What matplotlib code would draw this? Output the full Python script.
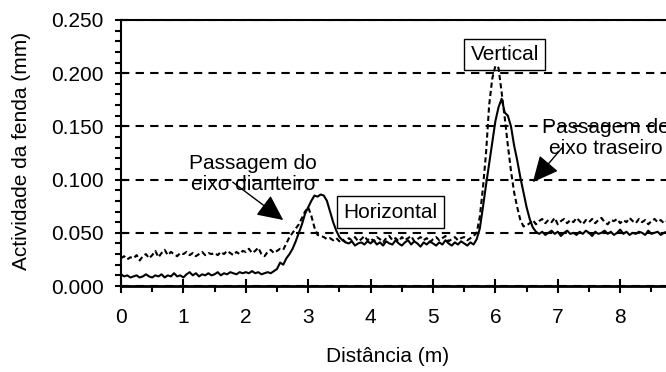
import numpy as np
import matplotlib.pyplot as plt
from matplotlib.ticker import MultipleLocator, FuncFormatter, FormatStrFormatter

plt.rcParams['font.family'] = ['Liberation Sans', 'DejaVu Sans']
plt.rcParams['font.size'] = 15

# distance along the slab (m), sampled every 0.05 m
distance = np.round(np.arange(0, 9.001, 0.05), 2)

# crack activity (mm) - horizontal (solid line)
horizontal = [
    0.011, 0.009, 0.010, 0.008, 0.009, 0.010, 0.008, 0.009, 0.011, 0.009,
    0.008, 0.010, 0.009, 0.011, 0.008, 0.010, 0.009, 0.012, 0.009, 0.010,
    0.008, 0.011, 0.013, 0.010, 0.012, 0.009, 0.011, 0.010, 0.012, 0.010,
    0.011, 0.013, 0.010, 0.012, 0.011, 0.013, 0.012, 0.011, 0.013, 0.012,
    0.013, 0.012, 0.014, 0.012, 0.013, 0.011, 0.012, 0.013, 0.012, 0.014,
    0.016, 0.022, 0.020, 0.026, 0.030, 0.035, 0.042, 0.050, 0.058, 0.068,
    0.074, 0.080, 0.085, 0.084, 0.086, 0.085, 0.080, 0.070, 0.060, 0.052,
    0.046, 0.043, 0.041, 0.040, 0.042, 0.038, 0.040, 0.041, 0.039, 0.042,
    0.040, 0.043, 0.039, 0.041, 0.038, 0.042, 0.040, 0.039, 0.043, 0.040,
    0.038, 0.041, 0.043, 0.039, 0.042, 0.040, 0.037, 0.041, 0.039, 0.042,
    0.040, 0.038, 0.041, 0.039, 0.043, 0.040, 0.038, 0.041, 0.039, 0.042,
    0.040, 0.038, 0.041, 0.039, 0.044, 0.054, 0.074, 0.095, 0.115, 0.135,
    0.155, 0.168, 0.176, 0.163, 0.160, 0.150, 0.132, 0.118, 0.102, 0.088,
    0.074, 0.063, 0.055, 0.051, 0.049,
    0.051, 0.048, 0.050, 0.052, 0.049, 0.051, 0.047, 0.050, 0.052, 0.049,
    0.050, 0.048, 0.051, 0.049, 0.052, 0.050, 0.047, 0.051, 0.049, 0.050,
    0.052, 0.049, 0.051, 0.048, 0.050, 0.053, 0.049, 0.051, 0.048, 0.050,
    0.049, 0.051, 0.050, 0.048, 0.052, 0.049, 0.050, 0.051, 0.048, 0.050,
    0.051, 0.049, 0.050, 0.052, 0.049, 0.050,
]

# crack activity (mm) - vertical (dashed line)
vertical = [
    0.026, 0.028, 0.025, 0.027, 0.026, 0.029, 0.024, 0.028, 0.030, 0.026,
    0.029, 0.033, 0.027, 0.031, 0.034, 0.029, 0.032, 0.030, 0.028, 0.031,
    0.030, 0.032, 0.029, 0.031, 0.028, 0.030, 0.032, 0.029, 0.031, 0.030,
    0.031, 0.029, 0.032, 0.030, 0.033, 0.031, 0.029, 0.032, 0.030, 0.033,
    0.032, 0.035, 0.031, 0.033, 0.036, 0.030, 0.028, 0.032, 0.034, 0.031,
    0.033, 0.035, 0.034, 0.040, 0.046, 0.050, 0.054, 0.058, 0.064, 0.070,
    0.074, 0.066, 0.055, 0.048, 0.047, 0.046, 0.044, 0.045, 0.043, 0.045,
    0.042, 0.044, 0.041, 0.045, 0.043, 0.046, 0.042, 0.044, 0.047, 0.043,
    0.045, 0.042, 0.046, 0.044, 0.041, 0.045, 0.047, 0.043, 0.045, 0.042,
    0.046, 0.043, 0.045, 0.047, 0.042, 0.044, 0.046, 0.043, 0.045, 0.041,
    0.044, 0.046, 0.043, 0.045, 0.047, 0.042, 0.044, 0.046, 0.043, 0.045,
    0.046, 0.043, 0.045, 0.047, 0.050, 0.065, 0.092, 0.125, 0.170, 0.195,
    0.207, 0.205, 0.182, 0.158, 0.132, 0.108, 0.088, 0.074, 0.062, 0.056,
    0.057, 0.059, 0.062, 0.058, 0.061, 0.063, 0.059, 0.062, 0.060, 0.064,
    0.058, 0.061, 0.063, 0.059, 0.062, 0.060, 0.064, 0.061, 0.058, 0.062,
    0.060, 0.063, 0.059, 0.062, 0.064, 0.060, 0.058, 0.062, 0.061, 0.063,
    0.059, 0.062, 0.060, 0.064, 0.061, 0.059, 0.063, 0.060, 0.062, 0.058,
    0.061, 0.063, 0.060, 0.062, 0.059, 0.061, 0.064, 0.060, 0.062, 0.059, 0.061,
]

fig = plt.figure(figsize=(6.66, 3.72), dpi=100)
ax = fig.add_axes([121 / 666, 86 / 372, 624 / 666, 266 / 372])

ax.plot(distance, horizontal, color="black", lw=1.5, zorder=4)
ax.plot(distance, vertical, color="black", lw=1.5, ls=(0, (2.5, 1.5)), zorder=4)

ax.set_xlim(0, 10)
ax.set_ylim(0, 0.25)
ax.xaxis.set_major_locator(MultipleLocator(1))
ax.xaxis.set_minor_locator(MultipleLocator(0.5))
# only the first 9 labels fit inside the picture
ax.xaxis.set_major_formatter(FuncFormatter(lambda v, p: "%d" % v if v < 8.5 else ""))
ax.yaxis.set_major_locator(MultipleLocator(0.05))
ax.yaxis.set_minor_locator(MultipleLocator(0.01))
ax.yaxis.set_major_formatter(FormatStrFormatter("%.3f"))
ax.grid(axis="y", which="major", color="black", lw=1.5, ls=(0, (4, 3)))

ax.spines["right"].set_visible(False)
ax.spines["top"].set_linewidth(1.5)
ax.spines["left"].set_linewidth(1.5)
ax.spines["bottom"].set_linewidth(2)

ax.tick_params(axis="x", which="major", direction="inout", length=10, width=1.5, pad=11)
ax.tick_params(axis="x", which="minor", direction="out", length=4.5, width=1.5)
ax.tick_params(axis="y", which="major", direction="inout", length=8.5, width=1.5, pad=8)
ax.tick_params(axis="y", which="minor", direction="out", length=4, width=1.5)

fig.text(388 / 666, 1 - 357 / 372, "Distância (m)", ha="center", va="center")
fig.text(22 / 666, 1 - 151 / 372, "Actividade da fenda (mm)", rotation=90,
         ha="center", va="center")

box = dict(boxstyle="square,pad=0.3", fc="white", ec="black", lw=1)
ax.text(6.15, 0.2176, "Vertical", ha="center", va="center", bbox=box, zorder=3)
ax.text(4.32, 0.0694, "Horizontal", ha="center", va="center", bbox=box, zorder=3)

ax.text(2.12, 0.1055, "Passagem do\neixo dianteiro", ha="center", va="center",
        linespacing=1.15, zorder=3)
ax.text(7.77, 0.139, "Passagem do\neixo traseiro", ha="center", va="center",
        linespacing=1.15, zorder=3)

arrow = dict(arrowstyle="-|>,head_length=0.8,head_width=0.38", color="black",
             lw=1, mutation_scale=20, shrinkA=0, shrinkB=0)
ax.annotate("", xy=(2.60, 0.062), xytext=(1.79, 0.0976), arrowprops=arrow, zorder=5)
ax.annotate("", xy=(6.60, 0.0976), xytext=(7.07, 0.130), arrowprops=arrow, zorder=5)

fig.savefig("out.png", dpi=100)
